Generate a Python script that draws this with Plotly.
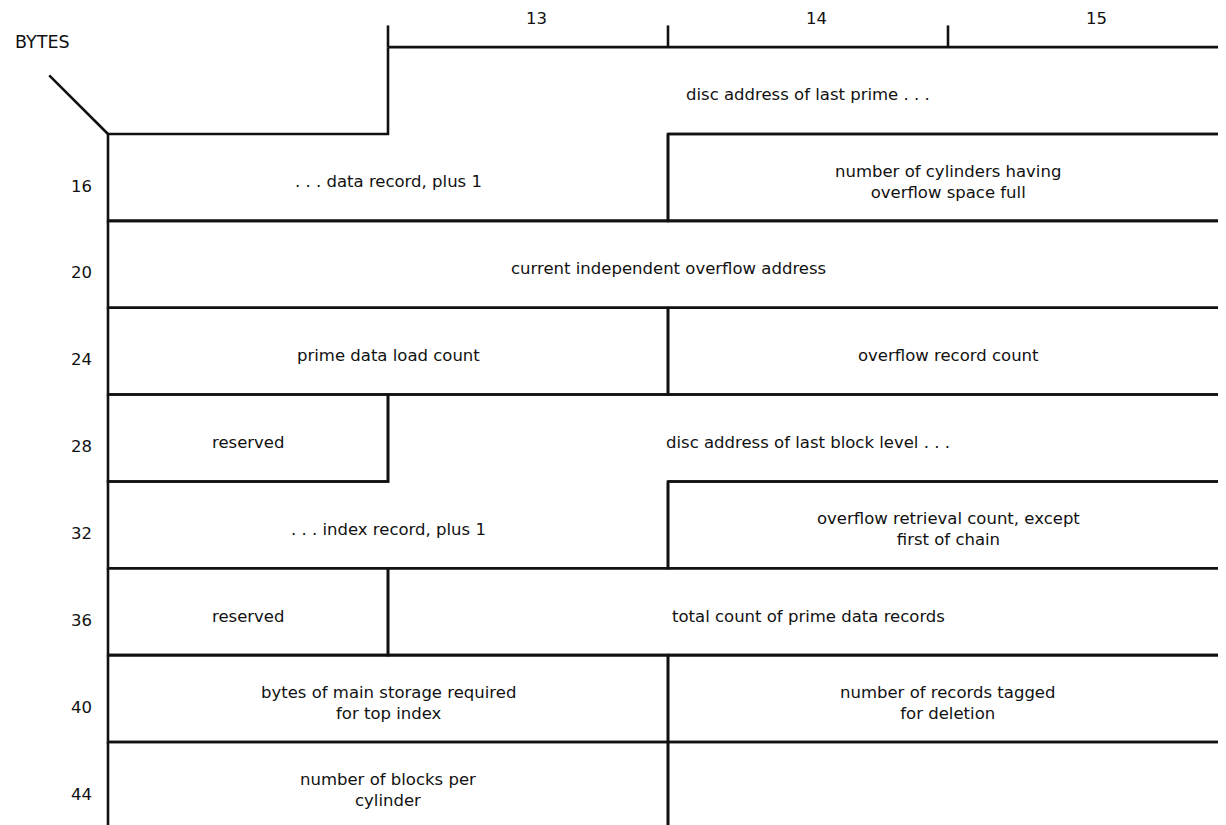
import plotly.graph_objects as go

# ---- data ----
first_byte = 12
bytes_per_row = 4
col_label_text = ["13", "14", "15"]
col_label_bytes = [13, 14, 15]
row_label_offsets = [16, 20, 24, 28, 32, 36, 40, 44]

field_starts = [13, 18, 20, 24, 26, 28, 29, 34, 36, 37, 40, 42, 44, 46]
field_lengths = [5, 2, 4, 2, 2, 1, 5, 2, 1, 3, 2, 2, 2, 2]
field_pieces = [
    ["disc address of last prime . . .", ". . . data record, plus 1"],
    ["number of cylinders having<br>overflow space full"],
    ["current independent overflow address"],
    ["prime data load count"],
    ["overflow record count"],
    ["reserved"],
    ["disc address of last block level . . .", ". . . index record, plus 1"],
    ["overflow retrieval count, except<br>first of chain"],
    ["reserved"],
    ["total count of prime data records"],
    ["bytes of main storage required<br>for top index"],
    ["number of records tagged<br>for deletion"],
    ["number of blocks per<br>cylinder"],
    [""],
]

# ---- styling ----
FONT = "DejaVu Sans"
INK = "#111111"
TXT = 16.5
LW = 2.6

xs, ys = [], []
annotations = []
for s, L, pieces in zip(field_starts, field_lengths, field_pieces):
    e = s + L
    r0 = (s // bytes_per_row) * bytes_per_row
    c0 = s - r0
    r1 = ((e - 1) // bytes_per_row) * bytes_per_row
    c1 = e - r1
    if r0 == r1:
        px = [c0, c1, c1, c0, c0]
        py = [r0, r0, r0 + 4, r0 + 4, r0]
    else:
        px = [c0, 4, 4, c1, c1, 0, 0, c0, c0]
        py = [r0, r0, r1, r1, r1 + 4, r1 + 4, r0 + 4, r0 + 4, r0]
    xs += px + [None]
    ys += py + [None]
    r = r0
    for txt in pieces:
        a = max(s, r) - r
        b = min(e, r + 4) - r
        if txt:
            annotations.append(dict(x=(a + b) / 2, y=r + 2.2, text=txt, showarrow=False,
                                    xref="x", yref="y",
                                    font=dict(family=FONT, size=TXT, color=INK)))
        r += 4

fig = go.Figure()
fig.add_trace(go.Scatter(x=xs, y=ys, mode="lines", line=dict(color=INK, width=LW),
                         hoverinfo="skip"))

# ruler ticks above the first row
tx, ty = [], []
for b in col_label_bytes:
    tx += [b - first_byte, b - first_byte, None]
    ty += [first_byte, first_byte - 1.0, None]
fig.add_trace(go.Scatter(x=tx, y=ty, mode="lines", line=dict(color=INK, width=LW), hoverinfo="skip"))

# corner diagonal
fig.add_trace(go.Scatter(x=[-0.21, 0], y=[13.3, 16], mode="lines",
                         line=dict(color=INK, width=LW), hoverinfo="skip"))

for t, b in zip(col_label_text, col_label_bytes):
    annotations.append(dict(x=b - first_byte + 0.53, y=first_byte - 1.3, text=t, showarrow=False,
                            font=dict(family=FONT, size=TXT, color=INK)))
for off in row_label_offsets:
    annotations.append(dict(x=-0.093, y=off + 2.4, text=str(off), showarrow=False,
                            font=dict(family=FONT, size=TXT, color=INK)))
annotations.append(dict(x=-0.235, y=11.77, text="BYTES", showarrow=False,
                        font=dict(family=FONT, size=17.5, color=INK)))

# pixel calibration (page body adds an 8px margin)
px_per_col = 280.0
left_px = 100.0
top16_px = 126.0
px_per_byte = (742 - 134) / 28.0
W, H = 1226, 825
fig.update_layout(
    width=W, height=H, margin=dict(l=0, r=0, t=0, b=0),
    paper_bgcolor="white", plot_bgcolor="white", showlegend=False,
    xaxis=dict(range=[-left_px / px_per_col, (W - left_px) / px_per_col], visible=False, fixedrange=True),
    yaxis=dict(range=[16 + (H - top16_px) / px_per_byte, 16 - top16_px / px_per_byte],
               visible=False, fixedrange=True),
    annotations=annotations,
)

fig.write_html("out.html")
